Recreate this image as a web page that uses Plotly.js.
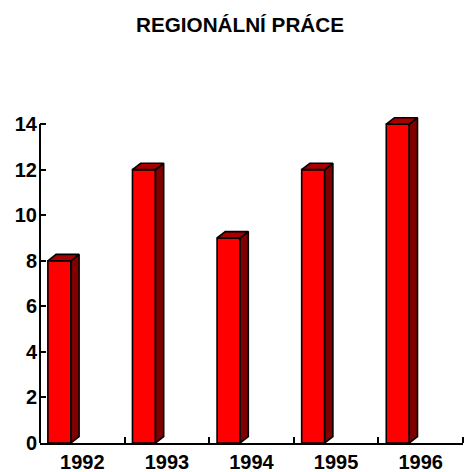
<!DOCTYPE html>
<html>
<head>
<meta charset="utf-8">
<script src="https://cdn.plot.ly/plotly-3.0.1.min.js"></script>
<style>html,body{margin:0;padding:0;background:#fff;}#chart{width:464px;height:472px;}</style>
</head>
<body>
<div id="chart"></div>
<script>
// Data
const years = [1992, 1993, 1994, 1995, 1996];
const yearLabels = ["1992", "1993", "1994", "1995", "1996"];
const values = [8, 12, 9, 12, 14];
const yTicks = [0, 2, 4, 6, 8, 10, 12, 14];

// 3D look parameters (in axis units)
const barOffset = -0.407, barWidth = 0.272;
const depthX = 0.097, depthY = 0.28;

// Build side and top faces from the data
const sideX = [], sideY = [], topX = [], topY = [];
years.forEach((yr, i) => {
  const v = values[i];
  const xl = yr + barOffset, xr = xl + barWidth;
  sideX.push(xr, xr + depthX, xr + depthX, xr, xr, null);
  sideY.push(0, depthY, v + depthY, v, 0, null);
  topX.push(xl, xr, xr + depthX, xl + depthX, xl, null);
  topY.push(v, v, v + depthY, v + depthY, v, null);
});

const traces = [
  {
    type: 'bar', x: years, y: values, width: barWidth, offset: barOffset,
    marker: {color: '#FF0000', line: {color: '#000', width: 1.6}},
    hoverinfo: 'x+y', showlegend: false
  },
  {
    type: 'scatter', mode: 'lines', x: sideX, y: sideY, fill: 'toself',
    fillcolor: '#800000', line: {color: '#000', width: 1.6}, hoverinfo: 'skip', showlegend: false
  },
  {
    type: 'scatter', mode: 'lines', x: topX, y: topY, fill: 'toself',
    fillcolor: '#A80000', line: {color: '#000', width: 1.6}, hoverinfo: 'skip', showlegend: false
  }
];

const layout = {
  width: 464, height: 472,
  margin: {l: 40, r: 1, t: 115, b: 29},
  paper_bgcolor: '#fff', plot_bgcolor: '#fff',
  font: {family: 'Liberation Sans, Arial, sans-serif', color: '#000'},
  title: {
    text: '<b>REGIONÁLNÍ PRÁCE</b>',
    font: {family: 'Liberation Sans, Arial, sans-serif', size: 20.7, color: '#000'},
    x: 240 / 464, xref: 'container', xanchor: 'center',
    y: 1 - 25 / 472, yref: 'container', yanchor: 'middle'
  },
  xaxis: {
    range: [1991.5, 1996.5],
    tickvals: years, ticktext: yearLabels.map(t => '<b>' + t + '</b>'),
    ticks: '', showgrid: false, zeroline: false,
    showline: true, linecolor: '#000', linewidth: 2,
    tickfont: {size: 20, color: '#000'},
    minor: {tick0: 1991.5, dtick: 1, ticks: 'inside', ticklen: 6, tickwidth: 2, tickcolor: '#000', showgrid: false},
    fixedrange: true
  },
  yaxis: {
    range: [0, 14.4],
    tickvals: yTicks, ticktext: yTicks.map(t => '<b>' + t + '</b>'),
    ticks: 'inside', ticklen: 6, tickwidth: 2, tickcolor: '#000',
    ticklabelstandoff: 2,
    showgrid: false, zeroline: false, showline: false,
    tickfont: {size: 20, color: '#000'},
    fixedrange: true
  },
  shapes: [
    {type: 'line', xref: 'paper', yref: 'y', x0: 0, x1: 0, y0: 0, y1: 14, line: {color: '#000', width: 2}}
  ],
  showlegend: false
};

Plotly.newPlot('chart', traces, layout, {displayModeBar: false, staticPlot: true});
</script>
</body>
</html>
